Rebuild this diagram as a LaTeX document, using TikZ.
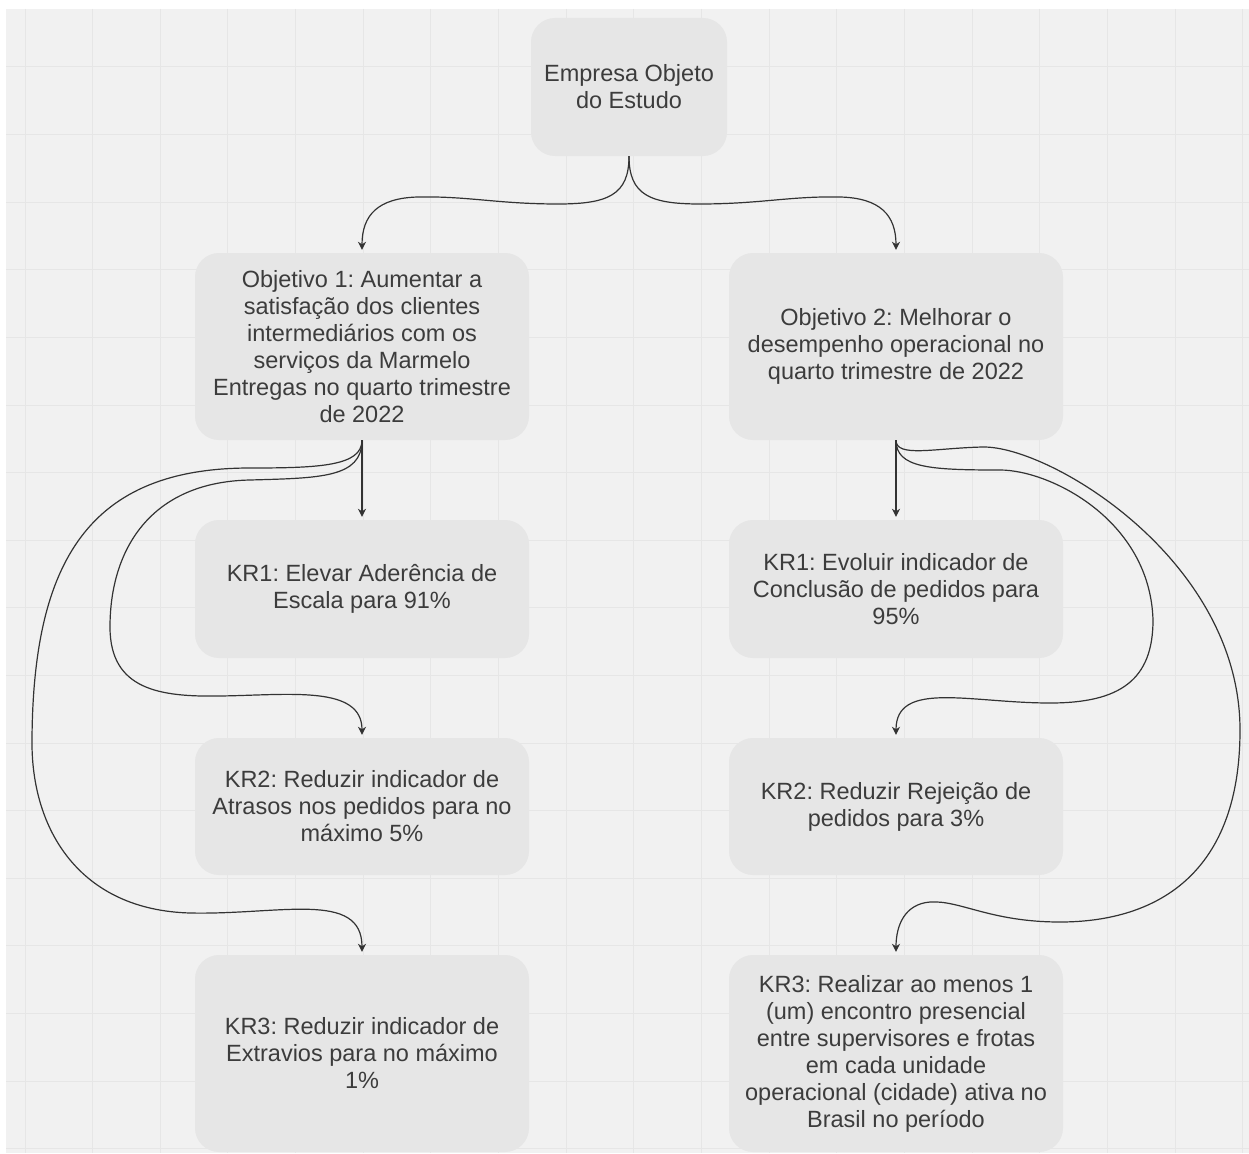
\documentclass[tikz,border=0pt]{standalone}
\usepackage{fontspec}
\setmainfont{Liberation Sans}
\usetikzlibrary{arrows.meta}
\definecolor{bgc}{HTML}{F1F1F1}
\definecolor{gridc}{HTML}{E6E6E6}
\definecolor{boxc}{HTML}{E6E6E6}
\definecolor{txtc}{HTML}{3C3C3C}
\definecolor{linec}{HTML}{333333}
\frenchspacing
\begin{document}
\begin{tikzpicture}[x=1pt,y=-1pt,
  box/.style={rectangle, rounded corners=24pt, fill=boxc, draw=none, inner sep=0pt,
    align=center, text=txtc, font=\fontsize{23.5}{27}\selectfont\frenchspacing},
  conn/.style={draw=linec, line width=1.2pt,
    -{Stealth[length=8pt,width=8pt,inset=2.5pt]}, shorten >=3pt},
  gridline/.style={draw=gridc, line width=1pt}
]
\useasboundingbox (0,0) rectangle (1249,1153);
\fill[white] (0,0) rectangle (1249,1153);
\fill[bgc] (6,9) rectangle (1249,1153);
\foreach \i in {0,...,18} {\draw[gridline] ({25+67.65*\i},9) -- ({25+67.65*\i},1153);}
\foreach \j in {1,...,17} {\draw[gridline] (6,{67.6*\j-0.6}) -- (1249,{67.6*\j-0.6});}

% nodes
\node[box, minimum width=196pt, minimum height=138pt] (top) at (629,87) {Empresa Objeto\\do Estudo};
\node[box, minimum width=334pt, minimum height=187pt] (o1) at (362,346.5) {Objetivo 1: Aumentar a\\satisfação dos clientes\\intermediários com os\\serviços da Marmelo\\Entregas no quarto trimestre\\de 2022};
\node[box, minimum width=334pt, minimum height=187pt] (o2) at (896,346.5) {Objetivo 2: Melhorar o\\desempenho operacional no\\quarto trimestre de 2022};
\node[box, minimum width=334pt, minimum height=138pt] (kr1l) at (362,589) {KR1: Elevar Aderência de\\Escala para 91\%};
\node[box, minimum width=334pt, minimum height=138pt] (kr1r) at (896,589) {KR1: Evoluir indicador de\\Conclusão de pedidos para\\95\%};
\node[box, minimum width=334pt, minimum height=137pt] (kr2l) at (362,806.5) {KR2: Reduzir indicador de\\Atrasos nos pedidos para no\\máximo 5\%};
\node[box, minimum width=334pt, minimum height=137pt] (kr2r) at (896,806.5) {KR2: Reduzir Rejeição de\\pedidos para 3\%};
\node[box, minimum width=334pt, minimum height=197pt] (kr3l) at (362,1053.5) {KR3: Reduzir indicador de\\Extravios para no máximo\\1\%};
\node[box, minimum width=334pt, minimum height=197pt] (kr3r) at (896,1053.5) {KR3: Realizar ao menos 1\\(um) encontro presencial\\entre supervisores e frotas\\em cada unidade\\operacional (cidade) ativa no\\Brasil no período};

% connectors from top
\draw[conn] (top.south) .. controls (629,195) and (608,204) .. (558,204)
  .. controls (498,204) and (468,196) .. (418,197)
  .. controls (378,198) and (362,215) .. (o1.north);
\draw[conn] (top.south) .. controls (629,195) and (650,204) .. (700,204)
  .. controls (760,204) and (790,196) .. (840,197)
  .. controls (880,198) and (896,215) .. (o2.north);

% left column
\draw[conn] (o1.south) -- (kr1l.north);
\draw[conn] (o1.south) .. controls (362,478) and (320,478) .. (250,480)
  .. controls (150,482) and (110,550) .. (110,627)
  .. controls (110,690) and (160,697) .. (220,696)
  .. controls (290,695) and (362,685) .. (kr2l.north);
\draw[conn] (o1.south) .. controls (362,466) and (320,468) .. (250,468)
  .. controls (90,468) and (33,560) .. (32,740)
  .. controls (31,830) and (80,910) .. (190,913)
  .. controls (280,915) and (362,890) .. (kr3l.north);

% right column
\draw[conn] (o2.south) -- (kr1r.north);
\draw[conn] (o2.south) .. controls (896,468) and (930,470) .. (1000,470)
  .. controls (1050,470) and (1150,520) .. (1153,620)
  .. controls (1153,680) and (1120,703) .. (1050,703)
  .. controls (970,703) and (896,680) .. (kr2r.north);
\draw[conn] (o2.south) .. controls (896,458) and (935,448) .. (983,447)
  .. controls (1050,446) and (1240,560) .. (1240,730)
  .. controls (1240,880) and (1150,922) .. (1060,922)
  .. controls (990,922) and (960,900) .. (930,902)
  .. controls (905,904) and (896,925) .. (kr3r.north);
\end{tikzpicture}
\end{document}
